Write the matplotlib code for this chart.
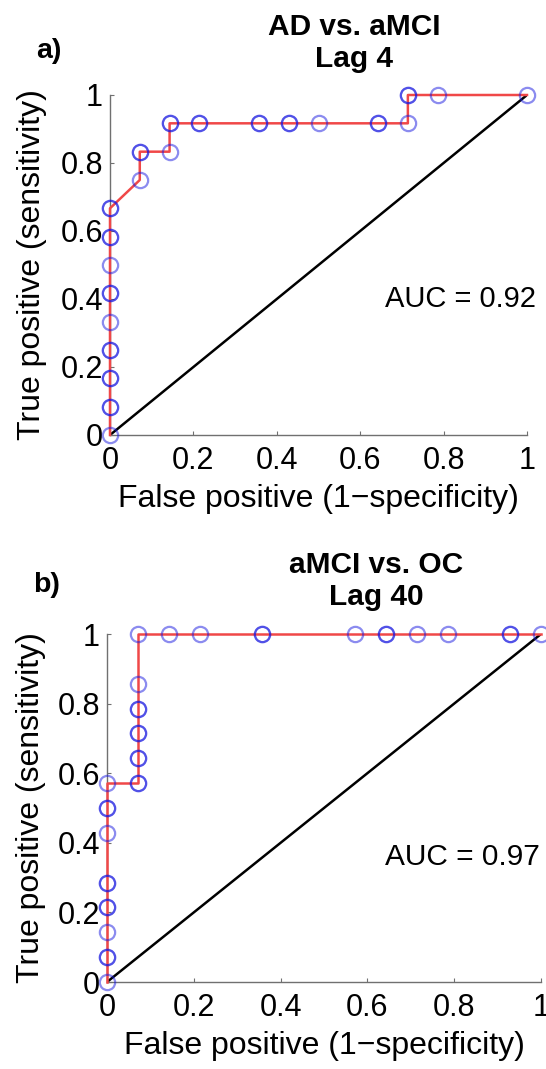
import matplotlib
matplotlib.use("Agg")
import matplotlib.pyplot as plt

plt.rcParams['font.family'] = ['Liberation Sans', 'DejaVu Sans']

# Panel a: AD vs. aMCI, Lag 4 (ROC points in order; repeated points overlap)
fpr_a = [0.0, 0.0, 0.0, 0.0, 0.0, 0.0, 0.0, 0.0, 0.0, 0.0, 0.0, 0.0, 0.0, 0.0, 0.0,
         0.0714, 0.0714, 0.0714, 0.1429, 0.1429, 0.1429, 0.2143, 0.2143,
         0.3571, 0.3571, 0.4286, 0.4286, 0.5, 0.6429, 0.6429, 0.7143,
         0.7143, 0.7143, 0.7857, 1.0]
tpr_a = [0.0, 0.0833, 0.0833, 0.1667, 0.1667, 0.25, 0.25, 0.3333, 0.4167, 0.4167,
         0.5, 0.5833, 0.5833, 0.6667, 0.6667,
         0.75, 0.8333, 0.8333, 0.8333, 0.9167, 0.9167, 0.9167, 0.9167,
         0.9167, 0.9167, 0.9167, 0.9167, 0.9167, 0.9167, 0.9167, 0.9167,
         1.0, 1.0, 1.0, 1.0]
auc_a = 0.92
title_a = "AD vs. aMCI\nLag 4"

# Panel b: aMCI vs. OC, Lag 40
fpr_b = [0.0, 0.0, 0.0, 0.0, 0.0, 0.0, 0.0, 0.0, 0.0, 0.0, 0.0, 0.0,
         0.0714, 0.0714, 0.0714, 0.0714, 0.0714, 0.0714, 0.0714, 0.0714,
         0.0714, 0.0714, 0.1429, 0.2143, 0.3571, 0.3571, 0.5714,
         0.6429, 0.6429, 0.7143, 0.7857, 0.9286, 0.9286, 1.0]
tpr_b = [0.0, 0.0714, 0.0714, 0.1429, 0.2143, 0.2143, 0.2857, 0.2857,
         0.4286, 0.5, 0.5, 0.5714,
         0.5714, 0.5714, 0.6429, 0.6429, 0.7143, 0.7143, 0.7857, 0.7857,
         0.8571, 1.0, 1.0, 1.0, 1.0, 1.0, 1.0,
         1.0, 1.0, 1.0, 1.0, 1.0, 1.0, 1.0]
auc_b = 0.97
title_b = "aMCI vs. OC\nLag 40"

tick_vals = [0, 0.2, 0.4, 0.6, 0.8, 1]
tick_labels = ["0", "0.2", "0.4", "0.6", "0.8", "1"]
xlabel = "False positive (1\u2212specificity)"
ylabel = "True positive (sensitivity)"

fig = plt.figure(figsize=(5.46, 10.69), dpi=100)

def panel(rect, fpr, tpr, auc, title, letter, title_xy, letter_xy, auc_xy, ylab_x, auc_fs):
    ax = fig.add_axes(rect)
    ax.set_xlim(0, 1)
    ax.set_ylim(0, 1)
    ax.plot([0, 1], [0, 1], color='black', lw=1.8, zorder=2)
    ax.plot(fpr, tpr, color='#f04848', lw=1.8, zorder=3, clip_on=False)
    ax.plot(fpr, tpr, linestyle='none', marker='o', ms=11, mfc='none',
            mec='#1818e0', mew=1.6, alpha=0.5, zorder=4, clip_on=False)
    for s in ['top', 'right']:
        ax.spines[s].set_visible(False)
    for s in ['left', 'bottom']:
        ax.spines[s].set_color('#707070')
        ax.spines[s].set_linewidth(1.0)
    ax.set_xticks(tick_vals)
    ax.set_xticklabels(tick_labels)
    ax.set_yticks(tick_vals)
    ax.set_yticklabels(tick_labels)
    ax.tick_params(direction='in', length=3, width=0.8, color='#707070',
                   labelsize=22)
    ax.tick_params(axis='x', pad=8)
    ax.tick_params(axis='y', pad=5)
    ax.set_xlabel(xlabel, fontsize=23, labelpad=6)
    ax.set_ylabel(ylabel, fontsize=23)
    ax.yaxis.set_label_coords(ylab_x, 0.5)
    ax.text(auc_xy[0], auc_xy[1], "AUC = %.2f" % auc, fontsize=auc_fs,
            transform=ax.transData, va='center', ha='left')
    fig.text(title_xy[0], title_xy[1], title, fontsize=21.5, fontweight='bold',
             ha='center', va='top', linespacing=1.2)
    fig.text(letter_xy[0], letter_xy[1], letter, fontsize=20.5, fontweight='bold',
             ha='left', va='top')
    return ax

W, H = 546.0, 1069.0
panel([110 / W, 1 - 435 / H, 417 / W, 340 / H], fpr_a, tpr_a, auc_a, title_a, "a)",
      (354 / W, 1 - 13 / H), (36 / W, 1 - 38 / H), (0.66, 0.40), -0.152, 21)
panel([107 / W, 1 - 982 / H, 434 / W, 348 / H], fpr_b, tpr_b, auc_b, title_b, "b)",
      (376 / W, 1 - 551 / H), (33 / W, 1 - 572 / H), (0.64, 0.36), -0.14, 21.5)

fig.savefig("out.png", dpi=100)
